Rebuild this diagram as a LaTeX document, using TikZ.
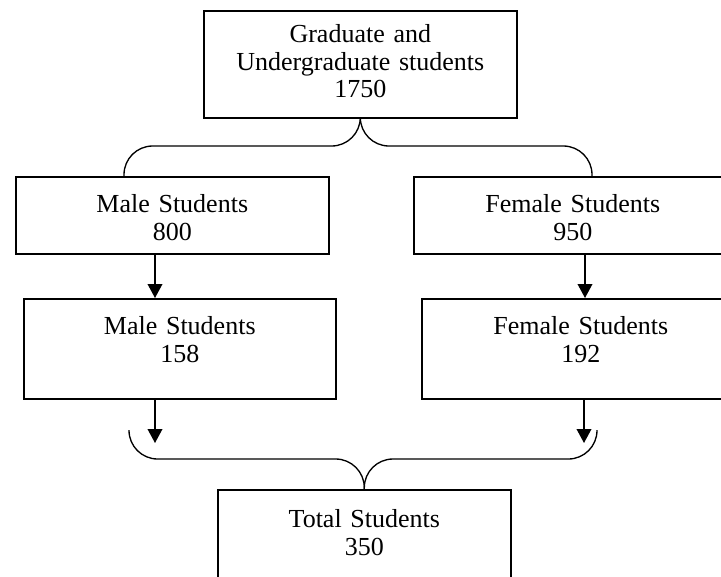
\documentclass[tikz,border=0pt]{standalone}
\usepackage{fontspec}
\setmainfont{Liberation Serif}
\usetikzlibrary{positioning,arrows.meta}

\begin{document}
\begin{tikzpicture}
[x=0.75pt,y=-0.75pt,
 box/.style={rectangle,draw,line width=1.2pt,inner sep=0pt,align=center,
   font=\fontsize{19.5}{20.6}\selectfont},
 brace/.style={line width=1pt,rounded corners=21.5pt},
 arr/.style={->,line width=1.2pt,>={Triangle[length=10.5pt,width=11pt]}}]
\useasboundingbox (0,0) rectangle (721,576);
\clip (0,0) rectangle (721,576);
\node[box,anchor=north west,text width=234.75pt,text height=24pt,text depth=56.25pt] (all) at (203,10) {Graduate and\\Undergraduate students\\1750};
\node[box,anchor=north west,text width=234.75pt,text height=27pt,text depth=30.75pt] (male1) at (15,176) {Male Students\\800};
\node[box,anchor=north west,text width=238.5pt,text height=27pt,text depth=30.75pt] (female1) at (413,176) {Female Students\\950};
\node[box,anchor=north west,text width=234pt,text height=27pt,text depth=48pt] (male2) at (23,298) {Male Students\\158};
\node[box,anchor=north west,text width=238.5pt,text height=27pt,text depth=48pt] (female2) at (421,298) {Female Students\\192};
\node[box,anchor=north west,text width=219.75pt,text height=28.5pt,text depth=60pt] (total) at (217,489) {Total Students\\350};
% braces
\coordinate (tl) at (124,176);
\coordinate (tr) at (592,176);
\draw[brace] (all.south) |- ([yshift=22.5pt]tl) -- (tl);
\draw[brace] (all.south) |- ([yshift=22.5pt]tr) -- (tr);
\coordinate (bl) at (129,430);
\coordinate (br) at (597,430);
\draw[brace] (bl) |- ([yshift=22.5pt]total.north) -- (total.north);
\draw[brace] (br) |- ([yshift=22.5pt]total.north) -- (total.north);
% arrows
\coordinate (ml) at (155,0);
\coordinate (fl) at (585,0);
\draw[arr] (ml |- male1.south) -- (ml |- male2.north);
\draw[arr] (fl |- female1.south) -- (fl |- female2.north);
\coordinate (mend) at (155,443);
\coordinate (fend) at (584,443);
\draw[arr] (mend |- male2.south) -- (mend);
\draw[arr] (fend |- female2.south) -- (fend);
\end{tikzpicture}
\end{document}
